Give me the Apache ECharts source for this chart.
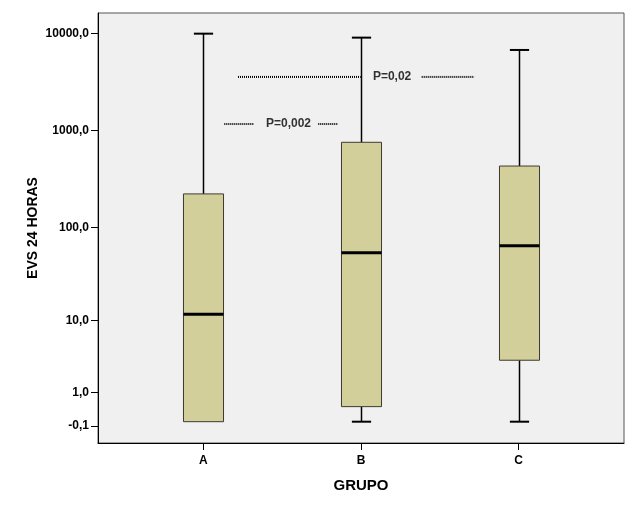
<!DOCTYPE html>
<html>
<head>
<meta charset="utf-8">
<script src="https://cdn.jsdelivr.net/npm/echarts@6/dist/echarts.min.js"></script>
<style>
html,body{margin:0;padding:0;background:#fff;}
#chart{width:637px;height:512px;}
</style>
</head>
<body>
<div id="chart"></div>
<script>
// ---- data ----
const categories = ['A', 'B', 'C'];
const minVals = [0, 0, 0];
const q1Vals = [0, 0.43, 3.3];
const medianVals = [11.8, 54, 64];
const q3Vals = [222, 758, 431];
const maxVals = [10000, 9100, 6790];

const yTickValues = [-0.1, 1, 10, 100, 1000, 10000];
const yTickLabels = ['-0,1', '1,0', '10,0', '100,0', '1000,0', '10000,0'];

const pLabels = ['P=0,02', 'P=0,002'];
const pLabelX = [1.197, 0.54];
const pLevels = [3580, 1170];
// dotted segments: [startX, endX, level]
const dotStart = [0.22, 1.385, 0.133, 0.729];
const dotEnd = [0.998, 1.717, 0.319, 0.856];
const dotLevel = [3580, 3580, 1170, 1170];

// ---- scale transform (log10(x+1)) ----
const tf = v => Math.log10(v + 1);

const boxData = categories.map((c, i) => [i, tf(minVals[i]), tf(q1Vals[i]), tf(medianVals[i]), tf(q3Vals[i]), tf(maxVals[i])]);
const dotData = dotStart.map((s, i) => [s, dotEnd[i], tf(dotLevel[i])]);
const labelData = pLabels.map((l, i) => ({ value: [pLabelX[i], tf(pLevels[i])], label: l }));

const FONT = "'Liberation Sans', Arial, sans-serif";
const chart = echarts.init(document.getElementById('chart'), null, { renderer: 'canvas' });

chart.setOption({
  backgroundColor: '#ffffff',
  animation: false,
  grid: {
    left: 98, right: 13, top: 13, bottom: 69,
    show: true, backgroundColor: '#f0f0f0', borderColor: '#555', borderWidth: 1
  },
  xAxis: {
    type: 'value', min: -0.668, max: 2.668,
    name: 'GRUPO', nameLocation: 'middle', nameGap: 35,
    nameTextStyle: { color: '#000', fontWeight: 'bold', fontSize: 15, fontFamily: FONT },
    axisLine: { show: true, onZero: false, lineStyle: { color: '#000', width: 1 } },
    axisTick: { show: true, length: 7, customValues: [0, 1, 2], lineStyle: { color: '#000', width: 1 } },
    axisLabel: {
      customValues: [0, 1, 2], margin: 12,
      color: '#000', fontWeight: 'bold', fontSize: 12, fontFamily: FONT,
      formatter: v => categories[Math.round(v)] || ''
    },
    splitLine: { show: false }
  },
  yAxis: {
    type: 'value', min: -0.2196, max: 4.213,
    name: 'EVS 24 HORAS', nameLocation: 'middle', nameGap: 58, nameMoveOverlap: false,
    nameTextStyle: { color: '#000', fontWeight: 'bold', fontSize: 14, fontFamily: FONT },
    axisLine: { show: true, onZero: false, lineStyle: { color: '#000', width: 1 } },
    axisTick: { show: true, length: 7, customValues: yTickValues.map(tf), lineStyle: { color: '#000', width: 1 } },
    axisLabel: {
      customValues: yTickValues.map(tf), margin: 9,
      color: '#000', fontWeight: 'bold', fontSize: 12, fontFamily: FONT,
      formatter: v => {
        let best = 0, bd = Infinity;
        yTickValues.forEach((t, i) => { const d = Math.abs(tf(t) - v); if (d < bd) { bd = d; best = i; } });
        return yTickLabels[best];
      }
    },
    splitLine: { show: false }
  },
  series: [
    {
      type: 'custom',
      data: boxData,
      renderItem: (params, api) => {
        const x = api.value(0);
        const pMin = api.coord([x, api.value(1)]);
        const pQ1 = api.coord([x, api.value(2)]);
        const pMed = api.coord([x, api.value(3)]);
        const pQ3 = api.coord([x, api.value(4)]);
        const pMax = api.coord([x, api.value(5)]);
        const bw = api.size([1, 0])[0] * 0.254;
        const cw = bw * 0.48;
        const cx = Math.round(pMed[0]) + 0.5;
        const children = [];
        children.push({ type: 'line', shape: { x1: cx, y1: pMax[1], x2: cx, y2: pQ3[1] }, style: { stroke: '#000', lineWidth: 1.5 } });
        children.push({ type: 'line', shape: { x1: cx - cw / 2, y1: pMax[1], x2: cx + cw / 2, y2: pMax[1] }, style: { stroke: '#000', lineWidth: 2 } });
        if (api.value(1) < api.value(2)) {
          children.push({ type: 'line', shape: { x1: cx, y1: pQ1[1], x2: cx, y2: pMin[1] }, style: { stroke: '#000', lineWidth: 1.5 } });
          children.push({ type: 'line', shape: { x1: cx - cw / 2, y1: pMin[1], x2: cx + cw / 2, y2: pMin[1] }, style: { stroke: '#000', lineWidth: 2 } });
        }
        children.push({ type: 'rect', shape: { x: cx - bw / 2, y: pQ3[1], width: bw, height: pQ1[1] - pQ3[1] }, style: { fill: '#d3cf9a', stroke: '#3c3a30', lineWidth: 1 } });
        children.push({ type: 'line', shape: { x1: cx - bw / 2, y1: pMed[1], x2: cx + bw / 2, y2: pMed[1] }, style: { stroke: '#000', lineWidth: 3 } });
        return { type: 'group', children };
      }
    },
    {
      type: 'custom',
      data: dotData,
      renderItem: (params, api) => {
        const a = api.coord([api.value(0), api.value(2)]);
        const b = api.coord([api.value(1), api.value(2)]);
        return { type: 'line', shape: { x1: a[0], y1: a[1], x2: b[0], y2: b[1] }, style: { stroke: '#000', lineWidth: 2, lineDash: [1, 1] } };
      }
    },
    {
      type: 'scatter',
      symbolSize: 0,
      data: labelData,
      label: {
        show: true, position: 'inside',
        formatter: p => p.data.label,
        color: '#000', fontWeight: 'bold', fontSize: 12, fontFamily: FONT
      }
    }
  ]
});
</script>
</body>
</html>
